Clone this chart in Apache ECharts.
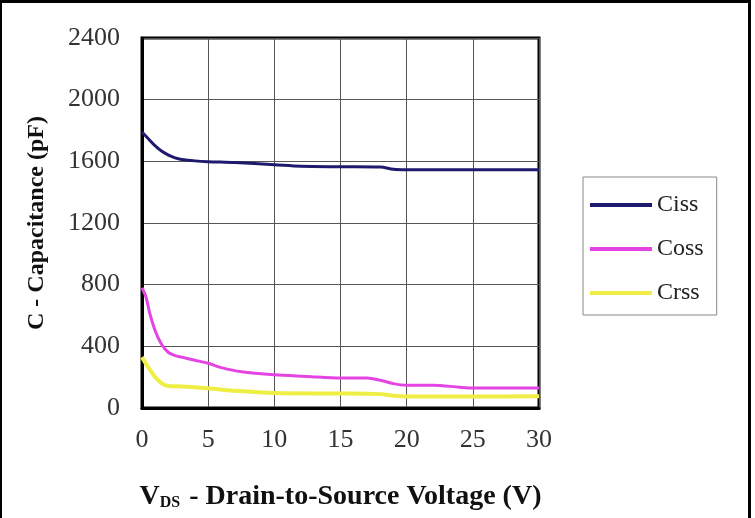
<!DOCTYPE html>
<html>
<head>
<meta charset="utf-8">
<script src="https://cdn.jsdelivr.net/npm/echarts@6/dist/echarts.min.js"></script>
<style>
html,body{margin:0;padding:0;background:#fff;}
#chart{width:755px;height:518px;}
</style>
</head>
<body>
<div id="chart"></div>
<script>
// values (VDS in V, capacitance in pF)
var cissV = [0, 0.5, 1, 1.5, 2, 2.5, 3, 4, 5, 7, 10, 12, 15, 18, 19, 20, 25, 30];
var cissC = [1790, 1745, 1700, 1665, 1640, 1622, 1612, 1603, 1598, 1592, 1578, 1568, 1565, 1563, 1548, 1545, 1545, 1545];

var cossV = [0, 0.3, 0.6, 1, 1.5, 2, 2.5, 3, 4, 5, 6, 7.5, 10, 12.5, 15, 17, 18, 19, 20, 22, 24, 25, 30];
var cossC = [780, 720, 610, 500, 410, 360, 340, 330, 310, 290, 262, 235, 215, 205, 195, 195, 180, 158, 148, 148, 135, 130, 130];

var crssV = [0, 0.5, 1, 1.5, 2, 3, 5, 7, 10, 15, 18, 19, 20, 25, 30];
var crssC = [330, 260, 200, 160, 142, 140, 128, 112, 97, 94, 90, 80, 74, 74, 76];

var seriesNames = ['Ciss', 'Coss', 'Crss'];
var seriesColors = ['#1e1b6e', '#e444e4', '#eeee44'];

function pairs(xs, ys) {
	var out = [];
	for (var i = 0; i < xs.length; i++) {
		out.push([xs[i], ys[i]]);
	}
	return out;
}

var serif = 'Liberation Serif';
var allData = [pairs(cissV, cissC), pairs(cossV, cossC), pairs(crssV, crssC)];
var lineWidths = [3, 3, 4];

var series = [];
for (var i = 0; i < seriesNames.length; i++) {
	series.push({
		name: seriesNames[i],
		type: 'line',
		showSymbol: false,
		symbol: 'none',
		smooth: 0.3,
		data: allData[i],
		lineStyle: {color: seriesColors[i], width: lineWidths[i]},
		itemStyle: {color: seriesColors[i]}
	});
}

var myChart = echarts.init(document.getElementById('chart'));
myChart.setOption({
	backgroundColor: '#fff',
	animation: false,
	grid: {
		left: 142, top: 38, right: 216, bottom: 110,
		show: true, borderColor: '#000', borderWidth: 3,
		outerBoundsMode: 'none'
	},
	legend: {
		data: seriesNames,
		orient: 'vertical',
		left: 583, top: 177,
		padding: [16, 13, 10, 7],
		itemWidth: 62, itemHeight: 4, itemGap: 20,
		icon: 'rect',
		borderColor: '#888', borderWidth: 1,
		textStyle: {fontFamily: serif, fontSize: 24, color: '#222'}
	},
	xAxis: {
		type: 'value', min: 0, max: 30, interval: 5,
		axisLine: {show: true, lineStyle: {color: '#000', width: 3}},
		axisTick: {show: false},
		splitLine: {show: true, lineStyle: {color: '#555', width: 1}},
		axisLabel: {fontFamily: serif, fontSize: 26, color: '#333', margin: 19},
		name: '{v|V}{s|DS}{v| - Drain-to-Source Voltage (V)}',
		nameLocation: 'middle', nameGap: 75,
		nameTextStyle: {
			rich: {
				v: {fontFamily: serif, fontWeight: 'bold', fontSize: 28, color: '#111'},
				s: {fontFamily: serif, fontWeight: 'bold', fontSize: 16, color: '#111', padding: [12, 2, 0, 0]}
			}
		}
	},
	yAxis: {
		type: 'value', min: 0, max: 2400, interval: 400,
		axisLine: {show: true, lineStyle: {color: '#000', width: 3}},
		axisTick: {show: false},
		splitLine: {show: true, lineStyle: {color: '#555', width: 1}},
		axisLabel: {
			fontFamily: serif, fontSize: 26, color: '#333', margin: 22,
			formatter: function (v) { return String(v); }
		},
		name: 'C - Capacitance (pF)',
		nameLocation: 'middle', nameGap: 93,
		nameTextStyle: {fontFamily: serif, fontWeight: 'bold', fontSize: 24, color: '#111'}
	},
	graphic: [
		{type: 'rect', shape: {x: 0, y: 0, width: 2, height: 518}, style: {fill: '#000'}},
		{type: 'rect', shape: {x: 0, y: 0, width: 751, height: 3}, style: {fill: '#000'}},
		{type: 'rect', shape: {x: 748, y: 0, width: 3, height: 518}, style: {fill: '#000'}}
	],
	series: series
});
</script>
</body>
</html>
